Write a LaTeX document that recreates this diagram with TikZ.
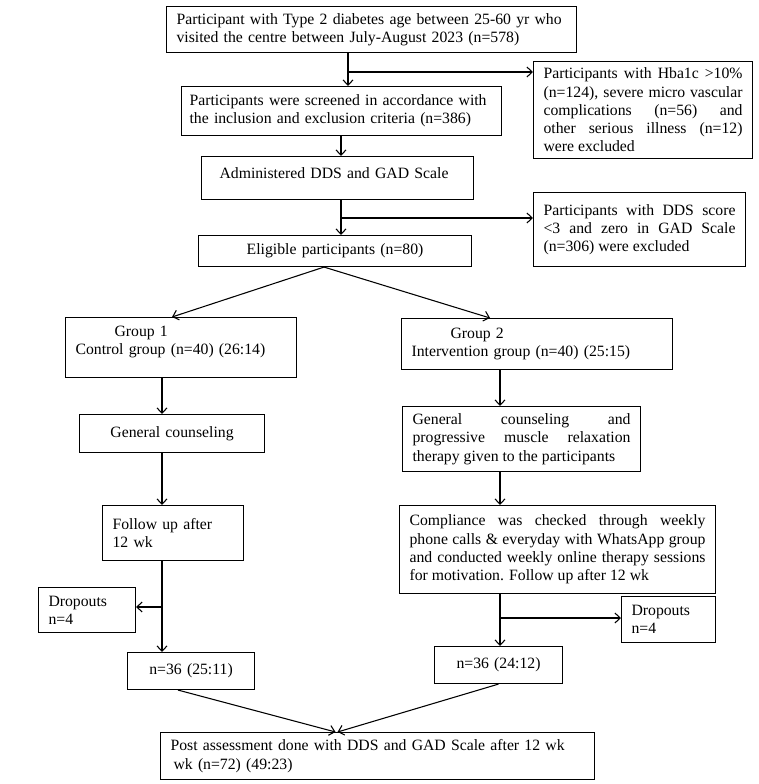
\documentclass[tikz,border=0pt]{standalone}
\usepackage{fontspec}
\setmainfont{Liberation Serif}
\usetikzlibrary{arrows.meta}
\newlength{\pxu}
\setlength{\pxu}{0.75pt}
\hyphenpenalty=10000
\exhyphenpenalty=10000

\begin{document}
\begin{tikzpicture}[x=0.75pt,y=-0.75pt,>={Straight Barb[length=4pt,width=7.5pt]},
  box/.style={draw,line width=0.8pt,anchor=north west,inner xsep=10\pxu,inner ysep=0pt,
    font=\fontsize{11.8}{13.7}\selectfont,align=left},
  jbox/.style={box,align=justify},
  cbox/.style={box,align=center},
  arr/.style={->,line width=0.8pt}]
  \useasboundingbox (0,0) rectangle (759,784);

  % screening
  \node[box,text width=390\pxu,minimum height=46\pxu] (top) at (166,6)
    {Participant with Type 2 diabetes age between 25-60 yr who\\visited the centre between July-August 2023 (n=578)};
  \node[box,inner xsep=8\pxu,text width=304\pxu,minimum height=49\pxu] (screen) at (181,86)
    {Participants were screened in accordance with\\the inclusion and exclusion criteria (n=386)};
  \node[jbox,text width=199\pxu,minimum height=97\pxu] (excl1) at (533,61)
    {Participants with Hba1c >10\%\linebreak (n=124), severe micro vascular\linebreak complications (n=56) and\linebreak other serious illness (n=12)\linebreak were excluded};
  \node[box,text width=252\pxu,minimum height=43\pxu,text depth=10\pxu] (admin) at (201,156)
    {\hspace*{8\pxu}Administered DDS and GAD Scale};
  \node[jbox,text width=192\pxu,minimum height=74\pxu] (excl2) at (533,192)
    {Participants with DDS score\linebreak <3 and zero in GAD Scale\linebreak (n=306) were excluded};
  \node[cbox,text width=253\pxu,minimum height=31\pxu] (elig) at (198,235)
    {Eligible participants (n=80)};

  % groups
  \node[box,text width=211\pxu,minimum height=60\pxu,text depth=33\pxu] (group1) at (65,317)
    {\hspace*{39\pxu}Group 1\\Control group (n=40) (26:14)};
  \node[box,text width=251\pxu,minimum height=51\pxu] (group2) at (401,318)
    {\hspace*{39\pxu}Group 2\\Intervention group (n=40) (25:15)};
  \node[cbox,text width=165\pxu,minimum height=38\pxu] (couns1) at (79,414)
    {General counseling};
  \node[jbox,text width=218\pxu,minimum height=65\pxu] (couns2) at (402,406)
    {General counseling and\linebreak progressive muscle relaxation\linebreak therapy given to the participants};
  \node[box,text width=121\pxu,minimum height=55\pxu] (follow1) at (102,505)
    {Follow up after\\12 wk};
  \node[jbox,text width=296\pxu,minimum height=88\pxu] (comply) at (399,505)
    {Compliance was checked through weekly\linebreak phone calls \& everyday with WhatsApp group\linebreak and conducted weekly online therapy sessions\linebreak for motivation. Follow up after 12 wk};
  \node[box,text width=77\pxu,minimum height=45\pxu] (drop1) at (38,587)
    {Dropouts\\n=4};
  \node[box,text width=74\pxu,minimum height=46\pxu] (drop2) at (621,596)
    {Dropouts\\n=4};
  \node[cbox,text width=107\pxu,minimum height=37\pxu] (n1) at (127,652)
    {n=36 (25:11)};
  \node[cbox,text width=108\pxu,minimum height=37\pxu] (n2) at (434,646)
    {n=36 (24:12)};
  \node[box,text width=414\pxu,minimum height=47\pxu] (post) at (160,732)
    {Post assessment done with DDS and GAD Scale after 12 wk\\\hspace*{3\pxu}wk (n=72) (49:23)};

  % branch points
  \coordinate (c1) at (348,72);
  \coordinate (c2) at (341,218);
  \coordinate (colL) at (162,0);
  \coordinate (colR) at (500,0);
  \coordinate (c3) at (162,607);
  \coordinate (c4) at (500,618);
  \coordinate (fork) at ([xshift=-11\pxu]elig.south);

  \draw[arr] (top.south -| c1) -- (screen.north -| c1);
  \draw[arr] (c1) -- (c1 -| excl1.west);
  \draw[arr] (screen.south -| c2) -- (admin.north -| c2);
  \draw[arr] (admin.south -| c2) -- (elig.north -| c2);
  \draw[arr] (c2) -- (c2 -| excl2.west);
  \draw[arr] (fork) -- ([xshift=-9\pxu]group1.north);
  \draw[arr] (fork) -- ([xshift=-47\pxu]group2.north);

  \draw[arr] (group1.south -| colL) -- (couns1.north -| colL);
  \draw[arr] (couns1.south -| colL) -- (follow1.north -| colL);
  \draw[arr] (follow1.south -| colL) -- (n1.north -| colL);
  \draw[arr] (c3) -- (c3 -| drop1.east);

  \draw[arr] (group2.south -| colR) -- (couns2.north -| colR);
  \draw[arr] (couns2.south -| colR) -- (comply.north -| colR);
  \draw[arr] (comply.south -| colR) -- (n2.north -| colR);
  \draw[arr] (c4) -- (c4 -| drop2.west);

  \draw[arr] ([xshift=-13\pxu]n1.south) -- ([xshift=-42\pxu]post.north);
  \draw[arr] (n2.south) -- ([xshift=-40\pxu]post.north);
\end{tikzpicture}
\end{document}
